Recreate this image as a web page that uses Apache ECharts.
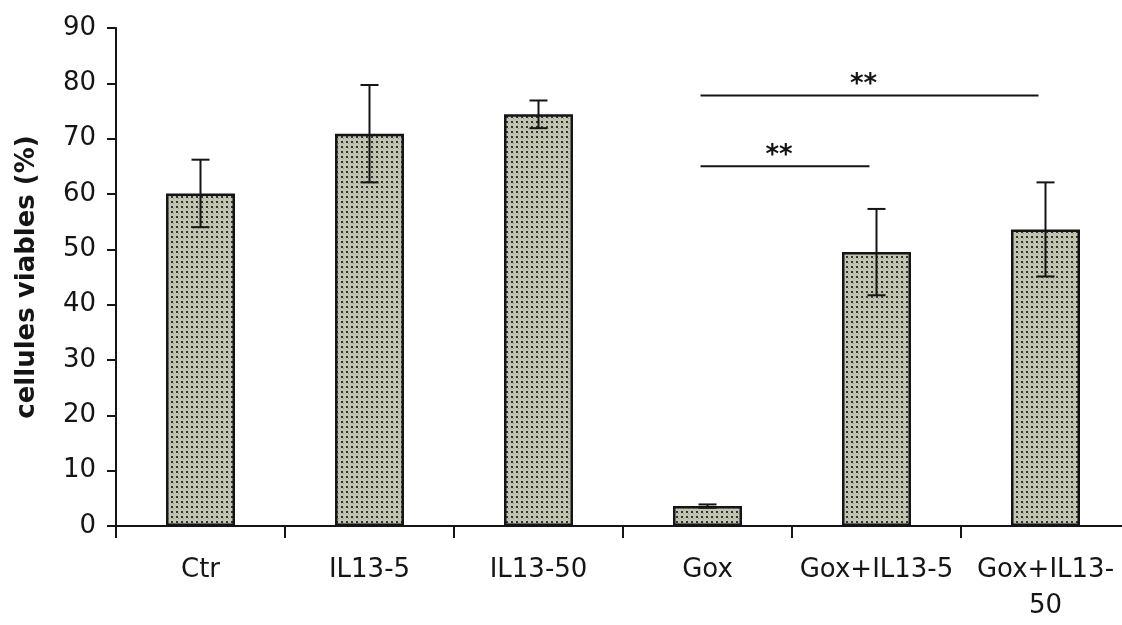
<!DOCTYPE html>
<html>
<head>
<meta charset="utf-8">
<script src="https://cdn.jsdelivr.net/npm/echarts@6/dist/echarts.min.js"></script>
<style>
html,body{margin:0;padding:0;background:#fff;overflow:hidden;}
#chart{width:1130px;height:625px;}
</style>
</head>
<body>
<div id="chart"></div>
<script>
// ---- data ----
const categories = ['Ctr', 'IL13-5', 'IL13-50', 'Gox', 'Gox+IL13-5', 'Gox+IL13-50'];
const viability = [60.1, 70.9, 74.4, 3.6, 49.5, 53.6];
const errors = [6.1, 8.8, 2.5, 0.3, 7.8, 8.5];
const yTicks = [0, 10, 20, 30, 40, 50, 60, 70, 80, 90];
// significance brackets: [fromIndex, toIndex, level]
const sigFrom = [3, 3];
const sigTo = [5, 4];
const sigLevel = [77.8, 65.0];
const sigLabel = ['**', '**'];

// ---- dotted fill pattern ----
function makePattern() {
  const c = document.createElement('canvas');
  c.width = 5; c.height = 5;
  const g = c.getContext('2d');
  g.fillStyle = '#c2c5b2';
  g.fillRect(0, 0, 5, 5);
  g.fillStyle = '#30332b';
  g.fillRect(1, 1, 2, 2);
  g.fillStyle = '#959888';
  g.fillRect(3, 3, 1, 1);
  return c;
}

const chart = echarts.init(document.getElementById('chart'), null, {renderer: 'canvas'});
const ink = '#151515';
const font = 'DejaVu Sans';

function wrapLabel(v) {
  // long labels wrap after their last hyphen, as in the reference
  if (v.length > 10 && v.lastIndexOf('-') > 0) {
    const k = v.lastIndexOf('-') + 1;
    return v.slice(0, k) + '\n' + v.slice(k);
  }
  return v;
}

const option = {
  backgroundColor: '#ffffff',
  animation: false,
  grid: {left: 116, right: 0, top: 28, bottom: 99, containLabel: false},
  xAxis: {
    type: 'category',
    data: categories,
    boundaryGap: true,
    axisLine: {lineStyle: {color: ink, width: 2}},
    axisTick: {show: true, length: 12, lineStyle: {color: ink, width: 2}},
    axisLabel: {
      color: ink, fontFamily: font, fontSize: 26, margin: 26,
      lineHeight: 36, interval: 0, formatter: wrapLabel
    },
    splitLine: {show: false}
  },
  yAxis: {
    type: 'value',
    min: yTicks[0], max: yTicks[yTicks.length - 1], interval: 10,
    name: 'cellules viables (%)',
    nameLocation: 'middle',
    nameGap: 76,
    nameTextStyle: {color: ink, fontFamily: font, fontSize: 26, fontWeight: 'bold'},
    axisLine: {show: true, lineStyle: {color: ink, width: 2}},
    axisTick: {show: true, length: 9, lineStyle: {color: ink, width: 2}},
    axisLabel: {color: ink, fontFamily: font, fontSize: 26, margin: 20},
    splitLine: {show: false}
  },
  series: [
    {
      type: 'bar',
      data: viability,
      barWidth: 69,
      itemStyle: {
        color: {image: makePattern(), repeat: 'repeat'},
        borderColor: ink,
        borderWidth: 2.5
      },
      z: 2
    },
    {
      type: 'custom',
      data: categories.map((c, i) => [i, viability[i] - errors[i], viability[i] + errors[i]]),
      encode: {x: 0, y: [1, 2]},
      z: 3,
      renderItem: function (params, api) {
        const lo = api.coord([api.value(0), api.value(1)]);
        const hi = api.coord([api.value(0), api.value(2)]);
        const hw = 9;
        const st = {stroke: ink, lineWidth: 2};
        return {
          type: 'group',
          children: [
            {type: 'line', shape: {x1: hi[0], y1: hi[1], x2: lo[0], y2: lo[1]}, style: st},
            {type: 'line', shape: {x1: hi[0] - hw, y1: hi[1], x2: hi[0] + hw, y2: hi[1]}, style: st},
            {type: 'line', shape: {x1: lo[0] - hw, y1: lo[1], x2: lo[0] + hw, y2: lo[1]}, style: st}
          ]
        };
      }
    },
    {
      type: 'custom',
      data: sigFrom.map((f, i) => [f, sigTo[i], sigLevel[i]]),
      encode: {x: [0, 1], y: 2},
      z: 3,
      renderItem: function (params, api) {
        const a = api.coord([api.value(0), api.value(2)]);
        const b = api.coord([api.value(1), api.value(2)]);
        const shift = -7;
        const label = sigLabel[params.dataIndex];
        return {
          type: 'group',
          children: [
            {type: 'line', shape: {x1: a[0] + shift, y1: a[1], x2: b[0] + shift, y2: b[1]},
             style: {stroke: ink, lineWidth: 2}},
            {type: 'text', x: (a[0] + b[0]) / 2 + shift - 6, y: a[1] - 10,
             style: {text: label, fill: ink, font: 'bold 26px DejaVu Sans', align: 'center', verticalAlign: 'middle'}}
          ]
        };
      }
    }
  ]
};
chart.setOption(option);
</script>
</body>
</html>
